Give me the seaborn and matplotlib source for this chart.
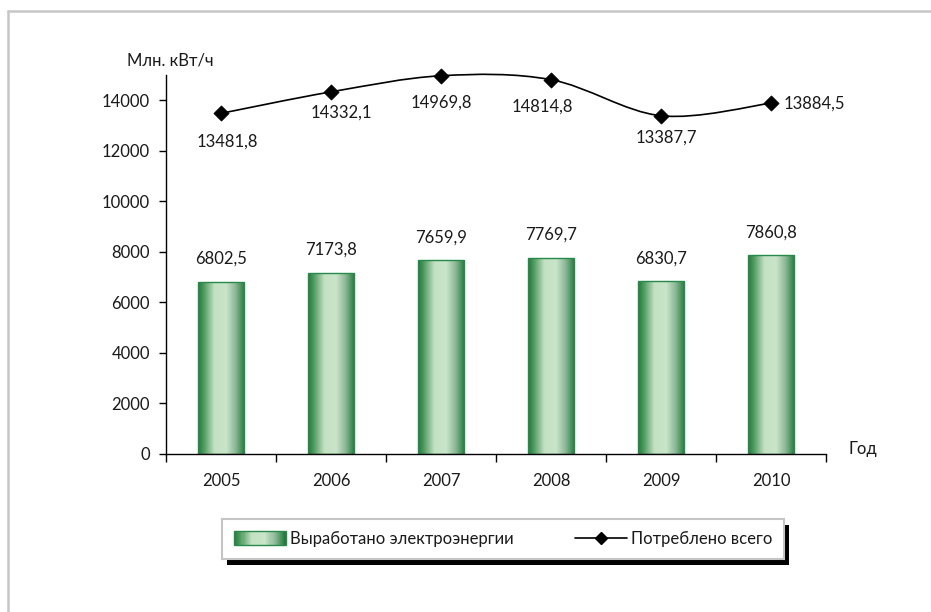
import numpy as np
import pandas as pd
import matplotlib
matplotlib.use("Agg")
import matplotlib.pyplot as plt
import seaborn as sns
from matplotlib.path import Path
from matplotlib.patches import PathPatch, Rectangle
from matplotlib.colors import LinearSegmentedColormap
from matplotlib.legend_handler import HandlerBase
from matplotlib.lines import Line2D
from matplotlib.transforms import IdentityTransform

# ---------------- data ----------------
years = ["2005", "2006", "2007", "2008", "2009", "2010"]
produced = [6802.5, 7173.8, 7659.9, 7769.7, 6830.7, 7860.8]
consumed = [13481.8, 14332.1, 14969.8, 14814.8, 13387.7, 13884.5]
y_ticks = [0, 2000, 4000, 6000, 8000, 10000, 12000, 14000]
series_names = ["Выработано электроэнергии", "Потреблено всего"]
y_title = "Млн. кВт/ч"
x_title = "Год"

# label offsets (pixels) for the line labels and their alignment
line_lbl_off = [(6, -28), (10, -21), (0, -27), (-9, -27), (5, -22), (13, 0)]
line_lbl_ha = ["center", "center", "center", "center", "center", "left"]

sns.set_theme(style="white")
plt.rcParams["font.family"] = ["Lato", "DejaVu Sans"]
TXT = "#1a1a1a"
FS = 12

df = pd.DataFrame({"year": years, "produced": produced, "consumed": consumed})

fig = plt.figure(figsize=(9.31, 6.12), dpi=100)
fig.patch.set_facecolor("white")
ax = fig.add_axes([166 / 931, 1 - 454 / 612, (826 - 166) / 931, (454 - 75) / 612])

cmap = LinearSegmentedColormap.from_list(
    "bar",
    [(0.0, "#1f7a3a"), (0.12, "#4e9a5e"), (0.35, "#c3e1c3"), (0.6, "#cae5ca"),
     (0.8, "#8cb796"), (1.0, "#1f7a3a")],
)
EDGE = "#27894a"

sns.barplot(data=df, x="year", y="produced", width=0.42, color="#9fcf9f",
            edgecolor=EDGE, linewidth=1.0, ax=ax, zorder=2)

grad = np.linspace(0, 1, 256).reshape(1, -1)
for p in list(ax.patches):
    x0, y0 = p.get_x(), p.get_y()
    w, h = p.get_width(), p.get_height()
    im = ax.imshow(grad, extent=[x0, x0 + w, y0, y0 + h], aspect="auto",
                   cmap=cmap, zorder=2.1, interpolation="bilinear")
    im.set_clip_path(p)
    p.set_facecolor("none")
    p.set_zorder(2.2)

# bar value labels
for i, v in enumerate(produced):
    ax.annotate(f"{v:.1f}".replace(".", ","), (i, v), xytext=(0, 23),
                textcoords="offset pixels", ha="center", va="center",
                fontsize=FS, color=TXT)

# smoothed consumption line
xs = np.arange(len(consumed), dtype=float)
P = np.column_stack([xs, np.array(consumed, dtype=float)])
n = len(P)
verts = [tuple(P[0])]
codes = [Path.MOVETO]
for i in range(n - 1):
    p0 = P[i - 1] if i > 0 else P[i]
    p3 = P[i + 2] if i + 2 < n else P[i + 1]
    c1 = P[i] + (P[i + 1] - p0) / 6.0
    c2 = P[i + 1] - (p3 - P[i]) / 6.0
    verts += [tuple(c1), tuple(c2), tuple(P[i + 1])]
    codes += [Path.CURVE4] * 3
ax.add_patch(PathPatch(Path(verts, codes), facecolor="none", edgecolor="black",
                       lw=1.2, zorder=3, clip_on=False))
sns.scatterplot(data=df, x="year", y="consumed", marker="D", s=60, color="black",
                edgecolor="black", linewidth=0.5, ax=ax, zorder=4, legend=False,
                clip_on=False)

for i, v in enumerate(consumed):
    ax.annotate(f"{v:.1f}".replace(".", ","), (i, v), xytext=line_lbl_off[i],
                textcoords="offset pixels", ha=line_lbl_ha[i], va="center",
                fontsize=FS, color=TXT)

# axes styling
ax.set_xlim(-0.5, len(years) - 0.5)
ax.set_ylim(0, 15000)
ax.set_yticks(y_ticks)
ax.set_yticklabels([str(t) for t in y_ticks])
ax.set_xticks(range(len(years)))
ax.set_xticklabels(years)
ax.set_xticks(np.arange(-0.5, len(years), 1.0), minor=True)
ax.set_xlabel("")
ax.set_ylabel("")
for s in ["top", "right"]:
    ax.spines[s].set_visible(False)
for s in ["left", "bottom"]:
    ax.spines[s].set_color("black")
    ax.spines[s].set_linewidth(1.0)
ax.tick_params(axis="y", which="major", direction="out", length=5, width=1,
               color="black", pad=6.5, labelsize=FS, labelcolor=TXT, left=True)
ax.tick_params(axis="x", which="major", length=0, pad=14, labelsize=FS,
               labelcolor=TXT, bottom=True)
ax.tick_params(axis="x", which="minor", direction="out", length=6, width=1,
               color="black", bottom=True)
ax.grid(False)
ax.set_facecolor("white")

fig.text(170 / 931, 1 - 61 / 612, y_title, ha="center", va="center",
         fontsize=FS, color=TXT)
fig.text(849 / 931, 1 - 449 / 612, x_title, ha="left", va="center",
         fontsize=FS, color=TXT)


# legend
class GradHandler(HandlerBase):
    def create_artists(self, legend, orig_handle, xdescent, ydescent, width,
                       height, fontsize, trans):
        arts = []
        k = 48
        for j in range(k):
            arts.append(Rectangle((-xdescent + width * j / k, -ydescent),
                                  width / k * 1.05, height,
                                  facecolor=cmap((j + 0.5) / k), edgecolor="none",
                                  transform=trans))
        arts.append(Rectangle((-xdescent, -ydescent), width, height,
                              facecolor="none", edgecolor=EDGE, lw=1.0,
                              transform=trans))
        return arts


bar_handle = Rectangle((0, 0), 1, 1)
line_handle = Line2D([], [], color="black", lw=1.2, marker="D", markersize=6.5)
leg = fig.legend([bar_handle, line_handle], series_names, loc="center",
                 bbox_to_anchor=(503 / 931, 1 - 539 / 612), ncol=2,
                 frameon=True, fancybox=False, framealpha=1, edgecolor="#c4c4c4",
                 fontsize=FS, handlelength=3.1, handleheight=0.9,
                 handletextpad=0.25, columnspacing=3.7, borderpad=0.7,
                 handler_map={Rectangle: GradHandler()})
leg.get_frame().set_linewidth(1.5)
for t in leg.get_texts():
    t.set_color(TXT)

# figure border (top and left light gray lines)
fig.add_artist(Line2D([8 / 931, 1.0], [1 - 11 / 612, 1 - 11 / 612],
                      color="#c6c6c6", lw=1.8, transform=fig.transFigure))
fig.add_artist(Line2D([8 / 931, 8 / 931], [0.0, 1 - 11 / 612],
                      color="#c6c6c6", lw=1.8, transform=fig.transFigure))

# legend shadow
fig.canvas.draw()
bb = leg.get_window_extent()
fig.add_artist(Rectangle((bb.x0 + 5, bb.y0 - 6), bb.width, bb.height,
                         facecolor="black", edgecolor="none",
                         transform=IdentityTransform(), zorder=leg.get_zorder() - 0.5))

fig.savefig("out.png", dpi=100)
